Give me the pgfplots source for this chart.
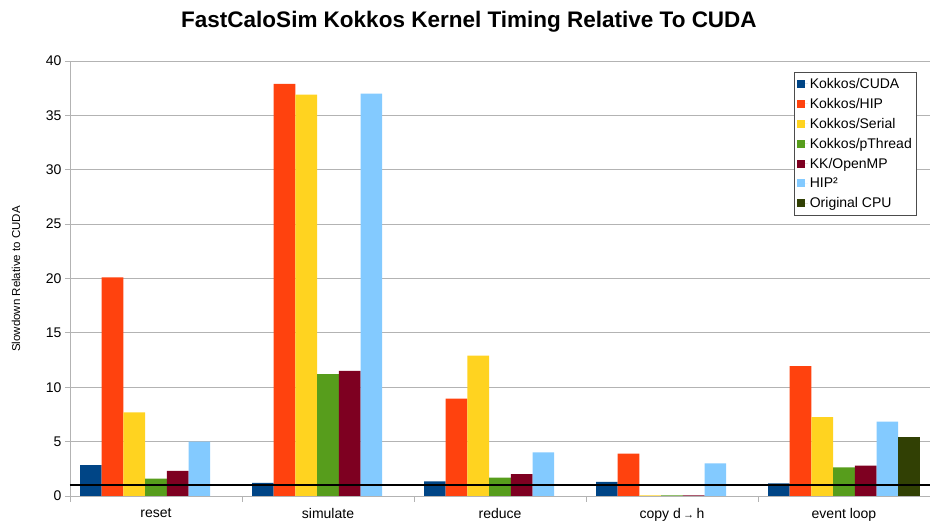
\documentclass[border=0pt]{standalone}
\usepackage{fontspec}
\setmainfont{Liberation Sans}
\usepackage{pgfplots}
\pgfplotsset{compat=1.18}
\definecolor{cA}{HTML}{004586}
\definecolor{cB}{HTML}{FF420E}
\definecolor{cC}{HTML}{FFD320}
\definecolor{cD}{HTML}{579D1C}
\definecolor{cE}{HTML}{7E0021}
\definecolor{cF}{HTML}{83CAFF}
\definecolor{cG}{HTML}{314004}
\definecolor{gridc}{HTML}{B3B3B3}
\begin{document}
\begin{tikzpicture}
\path[use as bounding box] (-70pt,-31pt) rectangle (860pt,496pt);
\begin{axis}[
  at={(0pt,0pt)}, anchor=south west,
  scale only axis,
  width=860pt, height=435pt,
  ybar=0pt, bar width=21.7pt,
  xmin=-0.5, xmax=4.5,
  ymin=0, ymax=40,
  ytick={0,5,...,40},
  xtick={0,1,2,3,4},
  xticklabels={reset, simulate, reduce, {copy d\,{\fontsize{11}{11}\selectfont →}\,h}, event loop},
  minor xtick={-0.5,0.5,1.5,2.5,3.5,4.5},
  major x tick style={draw=none},
  minor tick length=6pt,
  major tick length=5pt,
  tick align=outside,
  tick style={gridc, line width=0.8pt},
  axis x line*=bottom, axis y line*=left,
  axis line style={gridc, line width=0.8pt},
  ymajorgrids, grid style={gridc, line width=0.8pt},
  /pgf/number format/assume math mode=true,
  ticklabel style={font=\fontsize{14}{16}\selectfont},
  xticklabel style={yshift=-4pt},
  legend style={at={(0.985,0.975)}, anchor=north east, draw=black!70, line width=0.6pt,
    font=\fontsize{14}{16}\selectfont, row sep=4.3pt, inner xsep=3pt, inner ysep=4pt},
  legend cell align=left,
  legend image code/.code={\fill[#1] (0pt,-4pt) rectangle (8pt,4pt); \path (0pt,0pt) -- (11pt,0pt);},
]
\addplot[fill=cA, draw=none] coordinates {(0,2.85) (1,1.2) (2,1.35) (3,1.3) (4,1.15)};
\addplot[fill=cB, draw=none] coordinates {(0,20.1) (1,37.9) (2,8.95) (3,3.9) (4,11.95)};
\addplot[fill=cC, draw=none] coordinates {(0,7.7) (1,36.9) (2,12.9) (3,0.05) (4,7.26)};
\addplot[fill=cD, draw=none] coordinates {(0,1.6) (1,11.2) (2,1.7) (3,0.05) (4,2.63)};
\addplot[fill=cE, draw=none] coordinates {(0,2.3) (1,11.5) (2,2.0) (3,0.05) (4,2.8)};
\addplot[fill=cF, draw=none] coordinates {(0,5.0) (1,37.0) (2,4.0) (3,3.0) (4,6.85)};
\addplot[fill=cG, draw=none] coordinates {(4,5.4)};
\legend{Kokkos/CUDA, Kokkos/HIP, Kokkos/Serial, Kokkos/pThread, KK/OpenMP, HIP², Original CPU}
\addplot[sharp plot, draw=black, fill=none, line width=1.6pt, forget plot] coordinates {(-0.5,1) (4.5,1)};
\end{axis}
\node[font=\fontsize{22.5}{26}\selectfont\bfseries] at (399pt,474pt) {FastCaloSim Kokkos Kernel Timing Relative To CUDA};
\node[font=\fontsize{11.5}{13}\selectfont, rotate=90] at (-54pt,217pt) {Slowdown Relative to CUDA};
\end{tikzpicture}
\end{document}
